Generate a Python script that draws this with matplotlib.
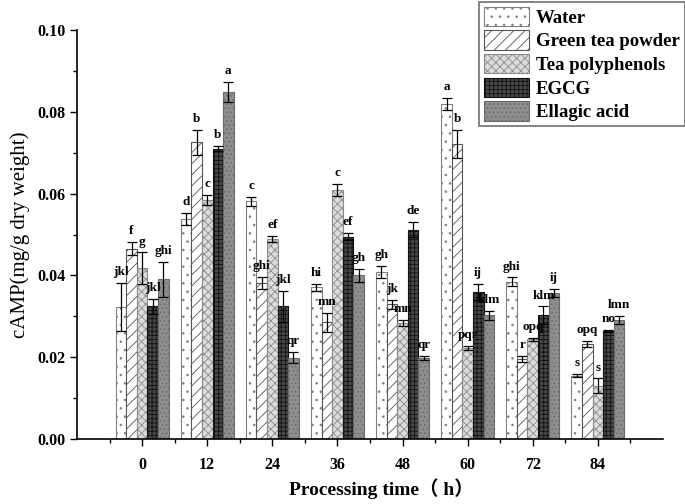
import numpy as np
import matplotlib
matplotlib.use('Agg')
import matplotlib.pyplot as plt

# Data
hours = [0, 12, 24, 36, 48, 60, 72, 84]
series_names = ['Water', 'Green tea powder', 'Tea polyphenols', 'EGCG', 'Ellagic acid']

water = [0.0322, 0.0538, 0.0581, 0.0371, 0.0408, 0.0819, 0.0384, 0.0155]
water_err = [0.0059, 0.0014, 0.0011, 0.0008, 0.0014, 0.0014, 0.0011, 0.0004]
water_lab = ['jkl', 'd', 'c', 'hi', 'gh', 'a', 'ghi', 's']

green = [0.0465, 0.0725, 0.0382, 0.0285, 0.0330, 0.0722, 0.0195, 0.0233]
green_err = [0.0016, 0.0031, 0.0015, 0.0023, 0.0011, 0.0034, 0.0007, 0.0007]
green_lab = ['f', 'b', 'ghi', 'mn', 'jk', 'b', 'r', 'opq']

poly = [0.0417, 0.0585, 0.0489, 0.0608, 0.0284, 0.0222, 0.0244, 0.0130]
poly_err = [0.0039, 0.0012, 0.0008, 0.0015, 0.0007, 0.0005, 0.0004, 0.0018]
poly_lab = ['g', 'c', 'ef', 'c', 'mn', 'pqr', 'opq', 's']

egcg = [0.0324, 0.0710, 0.0324, 0.0495, 0.0512, 0.0360, 0.0302, 0.0264]
egcg_err = [0.0018, 0.0006, 0.0039, 0.0009, 0.0019, 0.0020, 0.0022, 0.0002]
egcg_lab = ['jkl', 'b', 'jkl', 'ef', 'de', 'ij', 'klm', 'no']

ellagic = [0.0390, 0.0849, 0.0199, 0.0400, 0.0199, 0.0302, 0.0357, 0.0290]
ellagic_err = [0.0042, 0.0024, 0.0014, 0.0016, 0.0005, 0.0011, 0.0010, 0.0010]
ellagic_lab = ['ghi', 'a', 'qr', 'gh', 'qr', 'klm', 'ij', 'lmn']

values = [water, green, poly, egcg, ellagic]
errors = [water_err, green_err, poly_err, egcg_err, ellagic_err]
letters = [water_lab, green_lab, poly_lab, egcg_lab, ellagic_lab]

# Styles (face colour, hatch/edge colour, hatch)
faces = ['white', 'white', '#dcdcdc', '#474747', '#8e8e8e']
edges = ['#808080', '#555555', '#8a8a8a', '#111111', '#6a6a6a']
hatches = ['..', '///', 'xxxx', '++++', '....']

serif = ['Liberation Serif', 'DejaVu Serif']
plt.rcParams['font.family'] = serif
plt.rcParams['hatch.linewidth'] = 0.6

fig = plt.figure(figsize=(6.85, 5.04), dpi=100)
ax = fig.add_axes([77 / 685, 1 - 439 / 504, (663 - 77) / 685, (439 - 30) / 504])

x = np.array(hours, dtype=float)
width = 1.95
handles = []
for i in range(5):
    pos = x + (i - 2) * width
    b = ax.bar(pos, values[i], width, color=faces[i], edgecolor=edges[i],
               hatch=hatches[i], linewidth=0.8, label=series_names[i], zorder=2)
    handles.append(b)
    ax.errorbar(pos, values[i], yerr=errors[i], fmt='none', ecolor='black',
                elinewidth=0.9, capsize=3.5, capthick=0.9, zorder=3)
    for p, v, e, t in zip(pos, values[i], errors[i], letters[i]):
        ax.text(p, v + e + 0.0012, t, ha='center', va='bottom', fontsize=9.5,
                fontweight='bold', zorder=4)

ax.set_xlim(-12, 96)
ax.set_ylim(0, 0.10)
ax.set_xticks(hours)
ax.set_xticks(np.arange(-6, 96, 12), minor=True)
ax.set_yticks(np.arange(0, 0.101, 0.02))
ax.set_yticks(np.arange(0.01, 0.1, 0.02), minor=True)
ax.set_yticklabels(['%.2f' % v for v in np.arange(0, 0.101, 0.02)])

for lab in ax.get_xticklabels() + ax.get_yticklabels():
    lab.set_fontweight('bold')
    lab.set_fontsize(11.5)

ax.tick_params(which='major', direction='out', length=5, width=1)
ax.tick_params(axis='x', which='major', pad=8)
ax.tick_params(which='minor', direction='out', length=3, width=1)
ax.spines['top'].set_visible(False)
ax.spines['right'].set_visible(False)
ax.spines['left'].set_linewidth(1.2)
ax.spines['bottom'].set_linewidth(1.2)

ax.set_ylabel('cAMP(mg/g dry weight)', fontsize=15)
ax.yaxis.set_label_coords(-0.08, 0.5)
ax.set_xlabel('Processing time\uff08 h\uff09', fontsize=14, fontweight='bold',
              family=['Liberation Serif', 'Noto Sans CJK SC'])
ax.xaxis.set_label_coords(0.52, -0.095)

leg = fig.legend(handles=handles, loc='upper left', bbox_to_anchor=(479 / 685, 1 - 2 / 504),
                 prop={'family': serif, 'weight': 'bold', 'size': 13.5},
                 fancybox=False, framealpha=1, edgecolor='#707070',
                 handlelength=2.4, handleheight=1.2, labelspacing=0.2,
                 borderpad=0.25, handletextpad=0.4, borderaxespad=0)
leg.get_frame().set_linewidth(1.2)

fig.savefig('out.png', dpi=100)
